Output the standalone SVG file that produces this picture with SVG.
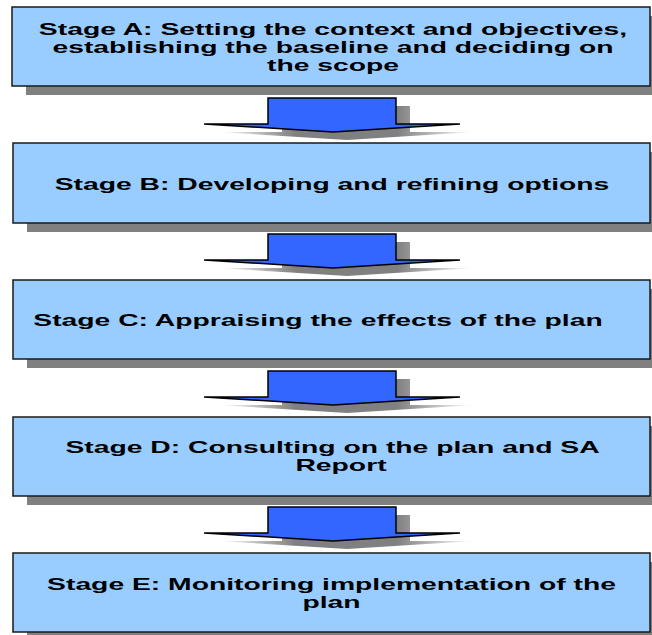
<svg xmlns="http://www.w3.org/2000/svg" width="652" height="635" viewBox="0 0 652 635">
<defs>
<style>
.box{fill:#99CCFF;stroke:#1a1a1a;stroke-width:1.5}
.shadow{fill:#808080}
.arrow{fill:#3366FF;stroke:#000;stroke-width:1.5;stroke-linejoin:miter}
.ashadow{fill:url(#ag)}
.t{font-family:"Liberation Sans",Arial,sans-serif;font-weight:bold;font-size:17px;fill:#000;text-anchor:middle}
</style>
<linearGradient id="ag" x1="0" y1="0" x2="1" y2="0">
<stop offset="0" stop-color="#808080" stop-opacity="0"/>
<stop offset="0.3" stop-color="#808080" stop-opacity="1"/>
<stop offset="0.7" stop-color="#808080" stop-opacity="1"/>
<stop offset="1" stop-color="#808080" stop-opacity="0"/>
</linearGradient>
<g id="arr">
<polygon class="ashadow" points="282,8 410,8 410,34 474,34 347,42 218,34 282,34"/>
<polygon class="arrow" points="268,0 396,0 396,26 460,26 333,34 204,26 268,26"/>
</g>
</defs>

<g id="connectors">
<use href="#arr" transform="translate(0,98)"/>
<use href="#arr" transform="translate(0,234)"/>
<use href="#arr" transform="translate(0,371)"/>
<use href="#arr" transform="translate(0,507)"/>
</g>

<g id="stageA">
<rect class="shadow" x="26" y="16" width="640" height="79"/>
<rect class="box" x="12" y="7" width="638" height="79"/>
<text class="t" transform="translate(333,35) scale(1.665,1)">Stage A: Setting the context and objectives,</text>
<text class="t" transform="translate(333,53) scale(1.665,1)">establishing the baseline and deciding on</text>
<text class="t" transform="translate(333,71) scale(1.665,1)">the scope</text>
</g>

<g id="stageB">
<rect class="shadow" x="27" y="152" width="640" height="80"/>
<rect class="box" x="13" y="143" width="637" height="80"/>
<text class="t" transform="translate(332,190) scale(1.665,1)">Stage B: Developing and refining options</text>
</g>

<g id="stageC">
<rect class="shadow" x="27" y="289" width="640" height="79"/>
<rect class="box" x="13" y="280" width="637" height="79"/>
<text class="t" transform="translate(318,326) scale(1.665,1)">Stage C: Appraising the effects of the plan</text>
</g>

<g id="stageD">
<rect class="shadow" x="27" y="426" width="640" height="79"/>
<rect class="box" x="13" y="417" width="637" height="79"/>
<text class="t" transform="translate(332.5,453) scale(1.665,1)">Stage D: Consulting on the plan and SA</text>
<text class="t" transform="translate(341,471) scale(1.665,1)">Report</text>
</g>

<g id="stageE">
<rect class="shadow" x="27" y="562" width="640" height="79"/>
<rect class="box" x="13" y="553" width="637" height="79"/>
<text class="t" transform="translate(331.5,590) scale(1.665,1)">Stage E: Monitoring implementation of the</text>
<text class="t" transform="translate(331.5,608) scale(1.665,1)">plan</text>
</g>
</svg>
